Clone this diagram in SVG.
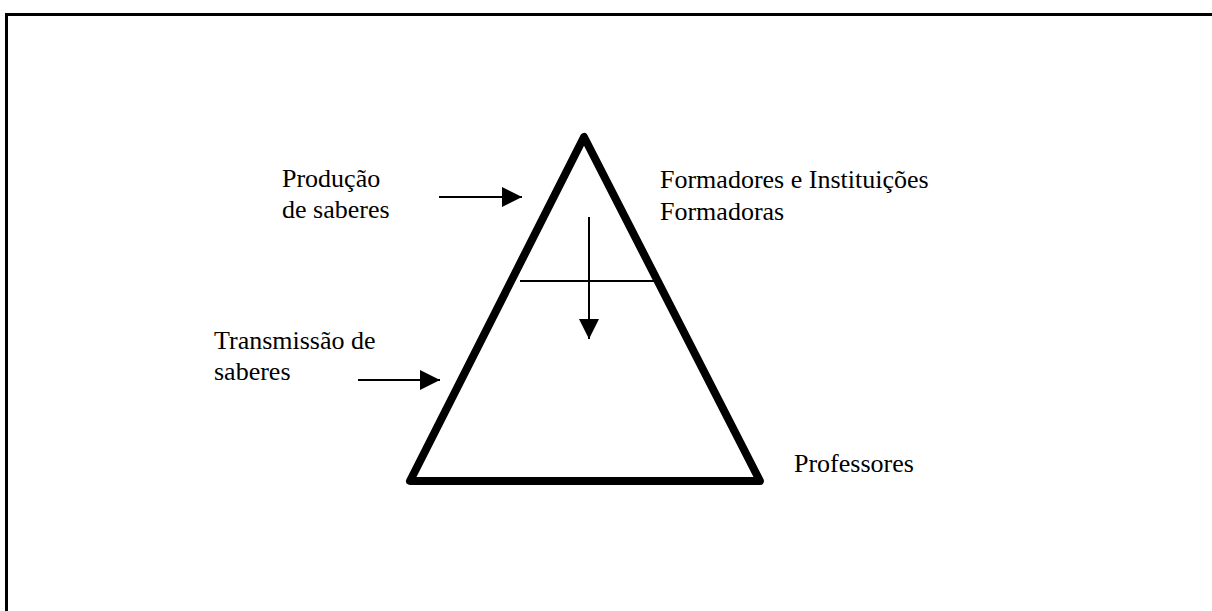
<svg xmlns="http://www.w3.org/2000/svg" width="1212" height="611" viewBox="0 0 1212 611">
<style>
.t{font-family:"Liberation Serif","Times New Roman",serif;font-size:26px;fill:#000}
.thin{stroke:#000;stroke-width:2;fill:none}
</style>
<defs>
<marker id="ah" markerWidth="20" markerHeight="20" refX="20" refY="10" orient="auto" markerUnits="userSpaceOnUse">
<path d="M0,0 L20,10 L0,20 Z" fill="#000"/>
</marker>
</defs>
<rect width="1212" height="611" fill="#fff"/>
<g id="frame">
<polyline points="6.5,611 6.5,14.5 1212,14.5" fill="none" stroke="#000" stroke-width="3"/>
</g>
<g id="pyramid">
<polygon points="584,137 410,481 760,481" fill="none" stroke="#000" stroke-width="8" stroke-linejoin="round"/>
<line class="thin" x1="520" y1="281" x2="655" y2="281"/>
</g>
<g id="connectors">
<line class="thin" x1="439" y1="197" x2="522" y2="197" marker-end="url(#ah)"/>
<line class="thin" x1="358" y1="380" x2="440" y2="380" marker-end="url(#ah)"/>
<line class="thin" x1="589" y1="217" x2="589" y2="339" marker-end="url(#ah)"/>
</g>
<g id="producao">
<text class="t" x="282" y="187">Produção</text>
<text class="t" x="282" y="218">de saberes</text>
</g>
<g id="transmissao">
<text class="t" x="214" y="349">Transmissão de</text>
<text class="t" x="214" y="380">saberes</text>
</g>
<g id="formadores">
<text class="t" x="660" y="188">Formadores e Instituições</text>
<text class="t" x="660" y="220">Formadoras</text>
</g>
<g id="professores">
<text class="t" x="794" y="472">Professores</text>
</g>
</svg>
